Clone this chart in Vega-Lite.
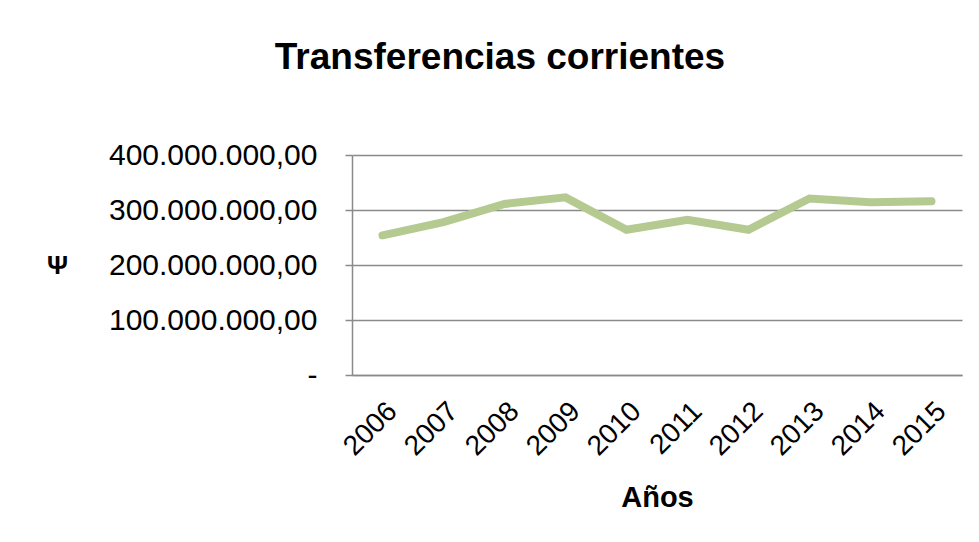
{
  "$schema": "https://vega.github.io/schema/vega-lite/v6.json",
  "width": 610,
  "height": 220,
  "autosize": {"type": "none"},
  "padding": {"left": 352, "top": 155, "right": 17, "bottom": 167},
  "background": "white",
  "config": {
    "locale": {"number": {"decimal": ",", "thousands": ".", "grouping": [3], "currency": ["", ""]}},
    "view": {"stroke": null},
    "font": "Liberation Sans"
  },
  "title": {
    "text": "Transferencias corrientes",
    "fontSize": 37,
    "font": "Liberation Sans",
    "fontWeight": "bold",
    "color": "black",
    "anchor": "middle",
    "frame": "group",
    "dx": -157,
    "baseline": "alphabetic",
    "offset": 34
  },
  "data": {
    "values": [
      {"year": "2006", "value": 254000000},
      {"year": "2007", "value": 278000000},
      {"year": "2008", "value": 311000000},
      {"year": "2009", "value": 323000000},
      {"year": "2010", "value": 264000000},
      {"year": "2011", "value": 282000000},
      {"year": "2012", "value": 264000000},
      {"year": "2013", "value": 321000000},
      {"year": "2014", "value": 314000000},
      {"year": "2015", "value": 316000000}
    ]
  },
  "mark": {"type": "line", "color": "#b4ca90", "strokeWidth": 8, "strokeCap": "round", "strokeJoin": "miter"},
  "encoding": {
    "x": {
      "field": "year",
      "type": "ordinal",
      "scale": {"type": "point", "padding": 0.5},
      "axis": {
        "title": "Años",
        "titleFont": "Liberation Sans",
        "titleFontSize": 29,
        "titleFontWeight": "bold",
        "titleColor": "black",
        "titleY": 131,
        "titleBaseline": "alphabetic",
        "labelAngle": -45,
        "labelFont": "Liberation Sans",
        "labelFontSize": 28,
        "labelColor": "black",
        "labelPadding": 22,
        "labelLimit": 0,
        "ticks": false,
        "grid": false,
        "domainColor": "#8a8a8a",
        "domainWidth": 1.5
      }
    },
    "y": {
      "field": "value",
      "type": "quantitative",
      "scale": {"domain": [0, 400000000]},
      "axis": {
        "title": "Ψ",
        "titleAngle": 0,
        "titleX": -295,
        "titleY": 110,
        "titleAlign": "center",
        "titleBaseline": "middle",
        "titleFont": "Liberation Sans",
        "titleFontSize": 26,
        "titleFontWeight": "bold",
        "titleColor": "black",
        "values": [0, 100000000, 200000000, 300000000, 400000000],
        "format": ",.2f",
        "labelExpr": "datum.value == 0 ? '-  ' : datum.label",
        "labelFont": "Liberation Sans",
        "labelFontSize": 30,
        "labelColor": "black",
        "labelPadding": 28,
        "labelLimit": 0,
        "tickSize": 7,
        "tickColor": "#8a8a8a",
        "tickWidth": 1.5,
        "domainColor": "#8a8a8a",
        "domainWidth": 1.5,
        "gridColor": "#8a8a8a",
        "gridWidth": 1.5
      }
    }
  }
}
